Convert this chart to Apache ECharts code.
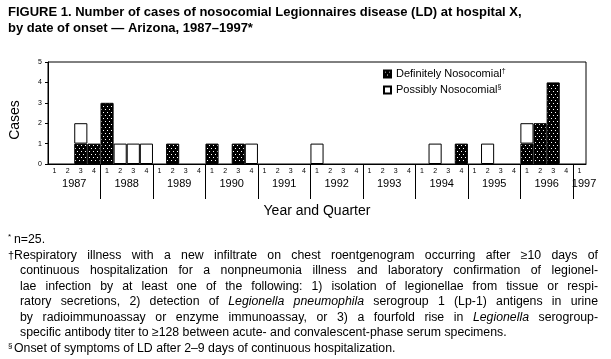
<!DOCTYPE html>
<html><head><meta charset="utf-8">
<script src="https://cdn.jsdelivr.net/npm/echarts@6/dist/echarts.min.js"></script>
<style>html,body{margin:0;padding:0;background:#fff}#c{width:611px;height:359px}</style>
</head><body><div id="c"></div>
<script>
// ---------------- data ----------------
const quarterLabels = ['1','2','3','4','1','2','3','4','1','2','3','4','1','2','3','4','1','2','3','4',
  '1','2','3','4','1','2','3','4','1','2','3','4','1','2','3','4','1','2','3','4','1'];
const yearLabels = ['1987','1988','1989','1990','1991','1992','1993','1994','1995','1996','1997'];
const definitely = [0,0,1,1, 3,0,0,0, 0,1,0,0, 1,0,1,0, 0,0,0,0, 0,0,0,0, 0,0,0,0, 0,0,0,1, 0,0,0,0, 1,2,4,0, 0];
const possibly   = [0,0,1,0, 0,1,1,1, 0,0,0,0, 0,0,0,1, 0,0,0,0, 1,0,0,0, 0,0,0,0, 0,1,0,0, 0,1,0,0, 1,0,0,0, 0];
const yTicks = [0,1,2,3,4,5];
const seriesNames = ['Definitely Nosocomial','Possibly Nosocomial'];
const seriesMarks = ['†','§'];
const titleLines = ['FIGURE 1. Number of cases of nosocomial Legionnaires disease (LD) at hospital X,',
  'by date of onset — Arizona, 1987–1997*'];
const footnotes = [
  {mark:'*', segs:[['n=25.',0]], justify:false},
  {mark:'†', segs:[['Respiratory illness with a new infiltrate on chest roentgenogram occurring after ≥10 days of',0]], justify:true},
  {segs:[['continuous hospitalization for a nonpneumonia illness and laboratory confirmation of legionel-',0]], justify:true},
  {segs:[['lae infection by at least one of the following: 1) isolation of legionellae from tissue or respi-',0]], justify:true},
  {segs:[['ratory secretions, 2) detection of',0],['Legionella pneumophila',1],['serogroup 1 (Lp-1) antigens in urine',0]], justify:true},
  {segs:[['by radioimmunoassay or enzyme immunoassay, or 3) a fourfold rise in',0],['Legionella',1],['serogroup-',0]], justify:true},
  {segs:[['specific antibody titer to ≥128 between acute- and convalescent-phase serum specimens.',0]], justify:false},
  {mark:'§', segs:[['Onset of symptoms of LD after 2–9 days of continuous hospitalization.',0]], justify:false}
];

// ---------------- styling ----------------
const NARROW = '"Liberation Sans Narrow", "Liberation Sans", Arial, sans-serif';
const SANS = '"Liberation Sans", Arial, sans-serif';

function makeStipple(){
  const c = document.createElement('canvas'); c.width = 4; c.height = 6;
  const g = c.getContext('2d');
  g.fillStyle = '#000'; g.fillRect(0,0,4,6);
  g.fillStyle = '#fff'; g.fillRect(1,1,1,1); g.fillRect(3,4,1,1);
  return c;
}
const stipple = {image: makeStipple(), repeat: 'repeat'};

// footnote layout (justified text)
const mctx = document.createElement('canvas').getContext('2d');
const FN_SIZE = 12.3;
function measure(word, italic){
  mctx.font = (italic ? 'italic ' : '') + FN_SIZE + 'px ' + SANS;
  return mctx.measureText(word).width;
}
const graphics = [];
const FN_TOP = 240, FN_STEP = 15.5, FN_RIGHT = 598;
footnotes.forEach((ln, i) => {
  const y = FN_TOP + i * FN_STEP;
  if (ln.mark) {
    graphics.push({type:'text', x: 8, y: y - (ln.mark === '†' ? 0 : 3), style:{text: ln.mark,
      fontSize: ln.mark === '†' ? 11 : 8, fontFamily: SANS, fill:'#000', verticalAlign:'middle'}});
  }
  const words = [];
  ln.segs.forEach(([t, it]) => t.split(' ').forEach(w => { if (w) words.push([w, it]); }));
  const widths = words.map(([w, it]) => measure(w, it));
  const start = ln.mark ? 14 : 20;
  const total = widths.reduce((a,b)=>a+b,0);
  const gap = ln.justify ? (FN_RIGHT - start - total) / (words.length - 1) : measure(' ', 0);
  let x = start;
  words.forEach(([w, it], k) => {
    graphics.push({type:'text', x: x, y: y, style:{text: w, fontSize: FN_SIZE, fontFamily: SANS,
      fontStyle: it ? 'italic' : 'normal', fill:'#000', verticalAlign:'middle'}});
    x += widths[k] + gap;
  });
});
titleLines.forEach((t, i) => {
  graphics.push({type:'text', x: 8, y: 12 + i * 16.5, style:{text: t, fontSize: 13, fontWeight: 'bold',
    fontFamily: NARROW, fill:'#000', verticalAlign:'middle'}});
});

const chart = echarts.init(document.getElementById('c'), null, {renderer:'canvas'});
const yearTickValues = yearLabels.slice(1).map((_, i) => (i + 1) * 4);
const yearLabelValues = yearLabels.map((_, i) => i < yearLabels.length - 1 ? i * 4 + 2 : i * 4 + 0.85);

chart.setOption({
  animation: false,
  backgroundColor: '#fff',
  grid: {left: 48, right: 25, top: 62, bottom: 195, show: true, borderColor: '#000', borderWidth: 1},
  legend: {
    orient: 'vertical', left: 378, top: 63, itemWidth: 7, itemHeight: 7, itemGap: 4,
    data: seriesNames.map((n, i) => ({name: n, icon: 'rect'})),
    selectedMode: false,
    formatter: name => name + '{s|' + seriesMarks[seriesNames.indexOf(name)] + '}',
    textStyle: {fontSize: 11, fontFamily: SANS, color: '#000', lineHeight: 12,
      rich: {s: {fontSize: 7, fontFamily: SANS, verticalAlign: 'top', lineHeight: 12, color:'#000'}}}
  },
  xAxis: [
    {
      type: 'category', data: quarterLabels, boundaryGap: true,
      axisLine: {lineStyle: {color: '#000', width: 1}},
      axisTick: {alignWithLabel: true, length: 2, interval: 0, lineStyle: {color: '#000'}},
      axisLabel: {interval: 0, fontSize: 7, fontFamily: SANS, color: '#000', margin: 4},
      name: 'Year and Quarter', nameLocation: 'middle', nameGap: 40,
      nameTextStyle: {fontSize: 14, fontFamily: NARROW, color: '#000'}
    },
    {
      type: 'value', min: 0, max: quarterLabels.length, position: 'bottom',
      axisLine: {show: false}, splitLine: {show: false},
      axisTick: {show: true, customValues: yearTickValues, length: 35, lineStyle: {color: '#000'}},
      axisLabel: {customValues: yearLabelValues, fontSize: 11, fontFamily: NARROW, color: '#000', margin: 14,
        formatter: v => yearLabels[Math.floor(v / 4)]}
    }
  ],
  yAxis: {
    type: 'value', min: 0, max: 5, interval: 1,
    axisLine: {show: true, lineStyle: {color: '#000'}},
    axisTick: {show: true, length: 3, lineStyle: {color: '#000'}},
    splitLine: {show: false},
    axisLabel: {fontSize: 7, fontFamily: SANS, color: '#000', margin: 6, customValues: yTicks},
    name: 'Cases', nameLocation: 'middle', nameGap: 26,
    nameTextStyle: {fontSize: 14, fontFamily: SANS, color: '#000', padding: [0, 14, 0, 0]}
  },
  series: [
    {name: seriesNames[0], type: 'bar', stack: 'a', xAxisIndex: 0, data: definitely.map(v => v || null),
      barWidth: '100%', itemStyle: {color: stipple, borderColor: '#000', borderWidth: 1}},
    {name: seriesNames[1], type: 'bar', stack: 'a', xAxisIndex: 0, data: possibly.map(v => v || null),
      barWidth: '100%', itemStyle: {color: '#fff', borderColor: '#000', borderWidth: 1}}
  ],
  graphic: graphics
});
</script></body></html>
